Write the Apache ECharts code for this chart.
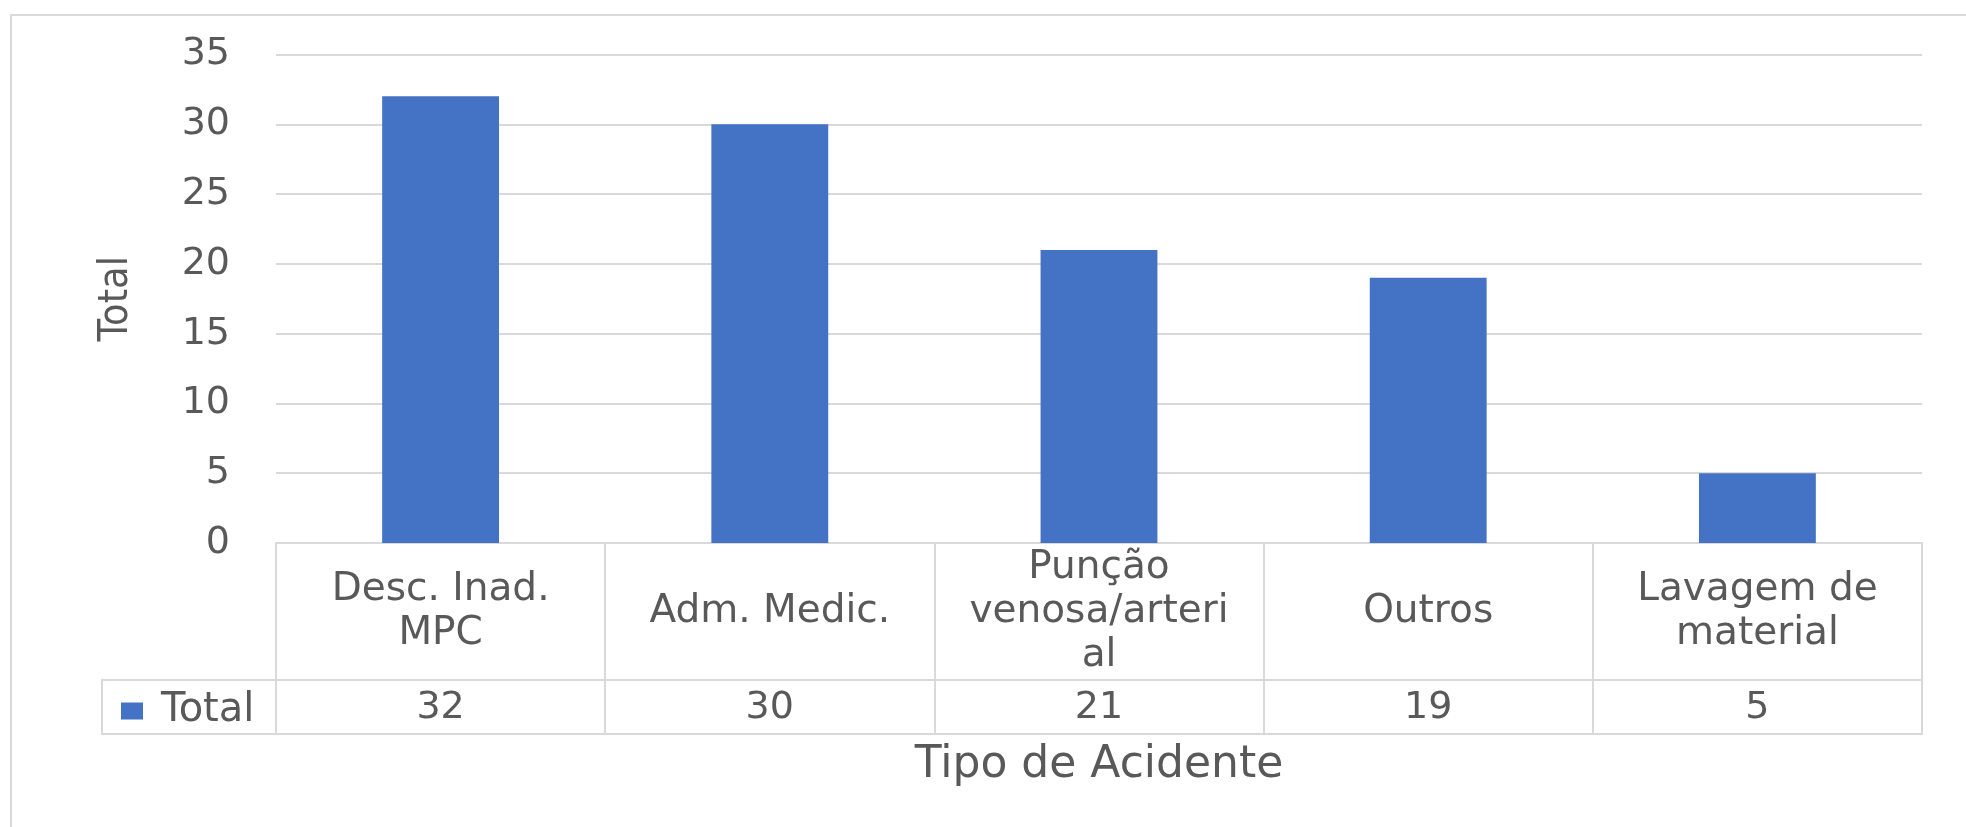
<!DOCTYPE html>
<html>
<head>
<meta charset="utf-8">
<script src="https://cdn.jsdelivr.net/npm/echarts@6/dist/echarts.min.js"></script>
<style>
  html, body { margin: 0; padding: 0; background: #ffffff; }
  #chart { width: 1966px; height: 827px; }
</style>
</head>
<body>
<div id="chart"></div>
<script>
// ---- data ----
const categories = ['Desc. Inad.\nMPC', 'Adm. Medic.', 'Punção\nvenosa/arteri\nal', 'Outros', 'Lavagem de\nmaterial'];
const totals = [32, 30, 21, 19, 5];
const seriesName = 'Total';
const yTicks = { min: 0, max: 35, interval: 5 };
const xTitle = 'Tipo de Acidente';
const yTitle = 'Total';

// ---- layout ----
const L = 276, R = 44;
const plotTop = 54.5, plotBottom = 543;
const row1Bottom = 680, row2Bottom = 734;
const legendCellLeft = 102;
const gridColor = '#d9d9d9';
const textColor = '#595959';
const font = 'DejaVu Sans';

const chart = echarts.init(document.getElementById('chart'), null, { renderer: 'canvas' });

chart.setOption({
  backgroundColor: '#ffffff',
  animation: false,
  textStyle: { fontFamily: font, color: textColor },
  grid: [
    { left: L, right: R, top: plotTop, height: plotBottom - plotTop },
    { left: L, right: R, top: plotBottom, height: row1Bottom - plotBottom,
      show: true, borderColor: gridColor, borderWidth: 2 },
    { left: L, right: R, top: row1Bottom, height: row2Bottom - row1Bottom,
      show: true, borderColor: gridColor, borderWidth: 2 }
  ],
  legend: {
    data: [seriesName],
    left: legendCellLeft + 14,
    top: row1Bottom + 6,
    icon: 'rect',
    itemWidth: 22,
    itemHeight: 17,
    selectedMode: false,
    textStyle: { fontFamily: font, fontSize: 40, color: textColor, padding: [0, 0, 0, 13] }
  },
  xAxis: [
    {
      type: 'category', gridIndex: 0, data: categories,
      axisLine: { lineStyle: { color: gridColor, width: 2 } },
      axisTick: { show: false },
      axisLabel: {
        interval: 0, margin: 69, verticalAlign: 'middle',
        fontFamily: font, fontSize: 39, lineHeight: 44, color: textColor
      }
    },
    {
      type: 'category', gridIndex: 1, data: categories,
      axisLine: { show: false }, axisTick: { show: false }, axisLabel: { show: false },
      splitLine: { show: true, lineStyle: { color: gridColor, width: 2 } }
    },
    {
      type: 'category', gridIndex: 2, data: categories,
      axisLine: { show: false }, axisTick: { show: false },
      axisLabel: {
        inside: true, interval: 0, margin: 26, verticalAlign: 'middle',
        fontFamily: font, fontSize: 38, color: textColor,
        formatter: (v, i) => String(totals[i])
      },
      splitLine: { show: true, lineStyle: { color: gridColor, width: 2 } },
      name: xTitle, nameLocation: 'middle', nameGap: 10,
      nameTextStyle: { fontFamily: font, fontSize: 44, color: textColor, verticalAlign: 'top' }
    }
  ],
  yAxis: [
    {
      type: 'value', gridIndex: 0,
      min: yTicks.min, max: yTicks.max, interval: yTicks.interval,
      axisLine: { show: false }, axisTick: { show: false },
      splitLine: { lineStyle: { color: gridColor, width: 2 } },
      axisLabel: { fontFamily: font, fontSize: 38, color: textColor, margin: 46 },
      name: yTitle, nameLocation: 'middle', nameRotate: 90, nameGap: 139,
      nameTextStyle: { fontFamily: 'Liberation Sans Narrow, DejaVu Sans Condensed, sans-serif', fontSize: 41, color: textColor }
    },
    { type: 'value', gridIndex: 1, show: false },
    { type: 'value', gridIndex: 2, show: false }
  ],
  series: [
    {
      name: seriesName, type: 'bar', xAxisIndex: 0, yAxisIndex: 0,
      data: totals, barWidth: '35.5%',
      itemStyle: { color: '#4472C4' }
    }
  ],
  graphic: [
    {
      type: 'rect', silent: true, z: -1,
      shape: { x: 11, y: 15, width: 2100, height: 1000 },
      style: { fill: 'none', stroke: gridColor, lineWidth: 2 }
    },
    {
      type: 'rect', silent: true,
      shape: { x: legendCellLeft, y: row1Bottom, width: L - legendCellLeft, height: row2Bottom - row1Bottom },
      style: { fill: 'none', stroke: gridColor, lineWidth: 2 }
    }
  ]
});
</script>
</body>
</html>
